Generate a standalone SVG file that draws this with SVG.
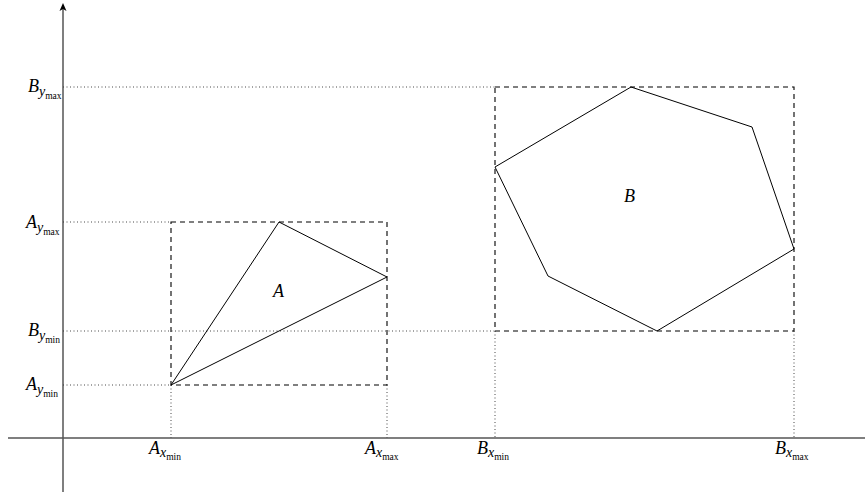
<svg xmlns="http://www.w3.org/2000/svg" width="865" height="493" viewBox="0 0 865 493">
<defs>
<marker id="arr" markerWidth="8" markerHeight="8" refX="4" refY="4" orient="auto" markerUnits="userSpaceOnUse">
<path d="M0,0.5 L8,4 L0,7.5 L2,4 Z" fill="#000"/>
</marker>
<style>
.ax{stroke:#555;stroke-width:1.5;fill:none}
.dot{stroke:#333;stroke-width:0.9;stroke-dasharray:1 2.5;fill:none}
.dash{stroke:#000;stroke-width:1.1;stroke-dasharray:5 4;fill:none}
.poly{stroke:#000;stroke-width:1;fill:none}
text{font-family:"Liberation Serif","DejaVu Serif",serif;fill:#000}
.m{font-style:italic;font-size:18px}
.s{font-style:italic;font-size:14px}
.ss{font-size:9.5px}
</style>
</defs>
<g id="axes">
<line class="ax" x1="63" y1="492" x2="63" y2="7" marker-end="url(#arr)"/>
<line class="ax" x1="8" y1="438" x2="865" y2="438"/>
</g>
<g id="guides">
<line class="dot" x1="63" y1="87" x2="495" y2="87"/>
<line class="dot" x1="63" y1="222" x2="171" y2="222"/>
<line class="dot" x1="63" y1="331" x2="495" y2="331"/>
<line class="dot" x1="63" y1="385" x2="171" y2="385"/>
<line class="dot" x1="171" y1="385" x2="171" y2="438"/>
<line class="dot" x1="387" y1="385" x2="387" y2="438"/>
<line class="dot" x1="495" y1="331" x2="495" y2="438"/>
<line class="dot" x1="794" y1="331" x2="794" y2="438"/>
</g>
<g id="nodeA">
<rect class="dash" x="171" y="222" width="216" height="163"/>
<polygon class="poly" points="171,385 279,222 387,277"/>
<text class="m" x="273" y="297">A</text>
</g>
<g id="nodeB">
<rect class="dash" x="495" y="87" width="299" height="244"/>
<polygon class="poly" points="495,167 631,87 752,127 794,249 657,331 548,276"/>
<text class="m" x="624" y="202">B</text>
</g>
<g id="labels">
<text x="28" y="92"><tspan class="m">B</tspan><tspan class="s" dy="4">y</tspan><tspan class="ss" dy="3">max</tspan></text>
<text x="26" y="228"><tspan class="m">A</tspan><tspan class="s" dy="4">y</tspan><tspan class="ss" dy="3">max</tspan></text>
<text x="28" y="336"><tspan class="m">B</tspan><tspan class="s" dy="4">y</tspan><tspan class="ss" dy="3">min</tspan></text>
<text x="26" y="390"><tspan class="m">A</tspan><tspan class="s" dy="4">y</tspan><tspan class="ss" dy="3">min</tspan></text>
<text x="149" y="454"><tspan class="m">A</tspan><tspan class="s" dy="3">x</tspan><tspan class="ss" dy="3">min</tspan></text>
<text x="365" y="454"><tspan class="m">A</tspan><tspan class="s" dy="3">x</tspan><tspan class="ss" dy="3">max</tspan></text>
<text x="477" y="454"><tspan class="m">B</tspan><tspan class="s" dy="3">x</tspan><tspan class="ss" dy="3">min</tspan></text>
<text x="775" y="454"><tspan class="m">B</tspan><tspan class="s" dy="3">x</tspan><tspan class="ss" dy="3">max</tspan></text>
</g>
</svg>
